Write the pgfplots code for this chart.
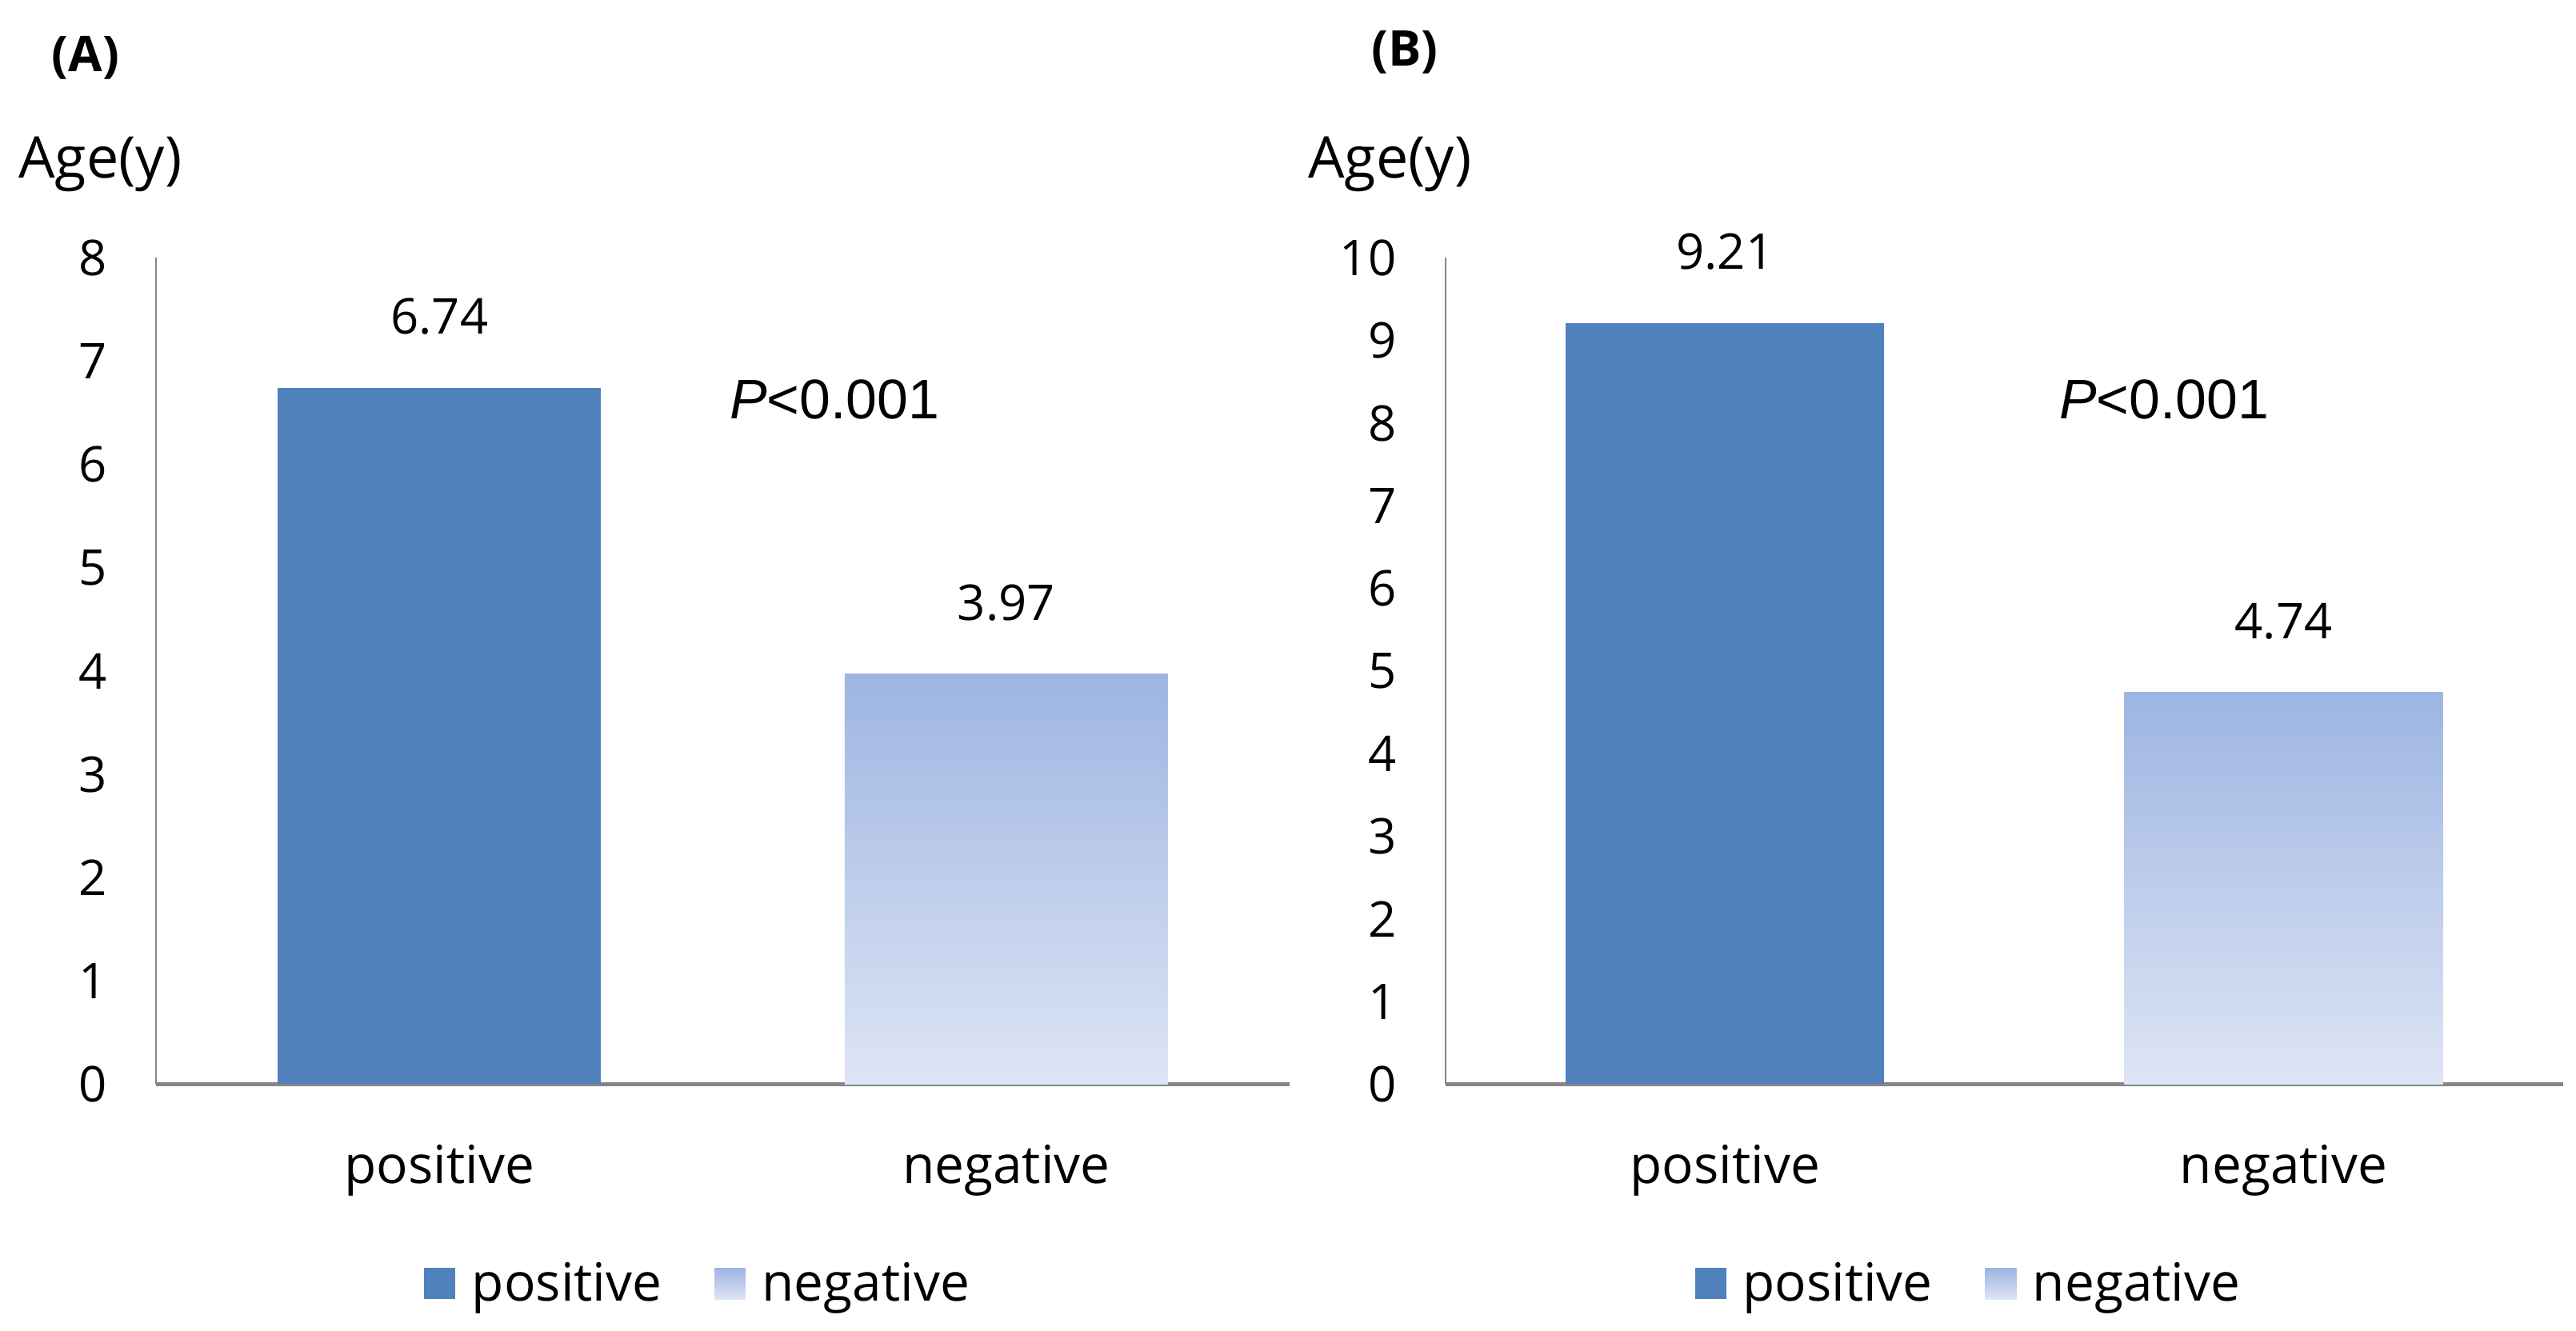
\documentclass[border=0pt]{standalone}
\usepackage{fontspec}
\setmainfont{Open Sans}
\newfontfamily\pfont{Liberation Sans}
\usepackage{pgfplots}
\pgfplotsset{compat=1.18}

\definecolor{posblue}{HTML}{4F81BD}
\definecolor{negtop}{HTML}{9DB5E2}
\definecolor{negbot}{HTML}{DEE5F4}
\definecolor{axisgray}{HTML}{868686}

\newcommand{\lbl}{\fontsize{15}{18}\selectfont}
\newcommand{\wrd}{\fontsize{16}{19}\selectfont}

\pgfplotsset{
  ybar legend/.style={
    legend image code/.code={\path[##1, draw=none] (0pt,-4.5pt) rectangle (9.5pt,5pt);}
  },
  agebar/.style={
    scale only axis, height=251.5pt,
    axis x line*=bottom, axis y line*=left,
    x axis line style={-, draw=axisgray, line width=1.2pt},
    y axis line style={-, draw=axisgray, line width=0.6pt},
    major tick length=0pt,
    xmin=-0.5, xmax=1.5, ymin=0,
    xtick={0,1}, xticklabels={positive,negative},
    ytick distance=1,
    yticklabel style={font=\lbl, xshift=-11.5pt},
    xticklabel style={font=\wrd, yshift=-15pt},
    /pgf/number format/assume math mode=true,
    ybar, bar width=0.57, bar shift=0pt,
    nodes near coords,
    nodes near coords style={font=\lbl, text=black, inner sep=0pt, yshift=16pt,
      /pgf/number format/fixed, /pgf/number format/precision=2,
      /pgf/number format/fixed zerofill},
    legend style={draw=none, fill=none, legend columns=2, font=\wrd,
      anchor=center,
      /tikz/every odd column/.append style={column sep=3pt},
      /tikz/every even column/.append style={column sep=14pt}},
    clip=false,
  }
}

\begin{document}
\begin{tikzpicture}
\useasboundingbox (0,0) rectangle (784pt,405pt);

% panel A
\begin{axis}[agebar, width=345pt, ymax=8, at={(47.5pt,75pt)}, anchor=south west,
  legend style={at={(0.48,-0.2425)}}]
\addplot[draw=none, fill=posblue] coordinates {(0,6.74)};
\addplot[draw=none, top color=negtop, bottom color=negbot] coordinates {(1,3.97)};
\legend{positive,negative}
\node[anchor=west, font=\pfont\fontsize{17}{20}\selectfont] at (axis cs:0.492,6.63) {\textit{P}<0.001};
\end{axis}

% panel B
\begin{axis}[agebar, width=340pt, ymax=10, at={(440pt,75pt)}, anchor=south west,
  legend style={at={(0.47,-0.2425)}}]
\addplot[draw=none, fill=posblue] coordinates {(0,9.21)};
\addplot[draw=none, top color=negtop, bottom color=negbot] coordinates {(1,4.74)};
\legend{positive,negative}
\node[anchor=west, font=\pfont\fontsize{17}{20}\selectfont] at (axis cs:0.578,8.29) {\textit{P}<0.001};
\end{axis}

\node[font=\lbl\bfseries] at (26pt,387.5pt) {(A)};
\node[font=\fontsize{17.5}{21}\selectfont] at (30.5pt,355pt) {Age(y)};
\node[font=\lbl\bfseries] at (427.5pt,389pt) {(B)};
\node[font=\fontsize{17.5}{21}\selectfont] at (423pt,355pt) {Age(y)};
\end{tikzpicture}
\end{document}
